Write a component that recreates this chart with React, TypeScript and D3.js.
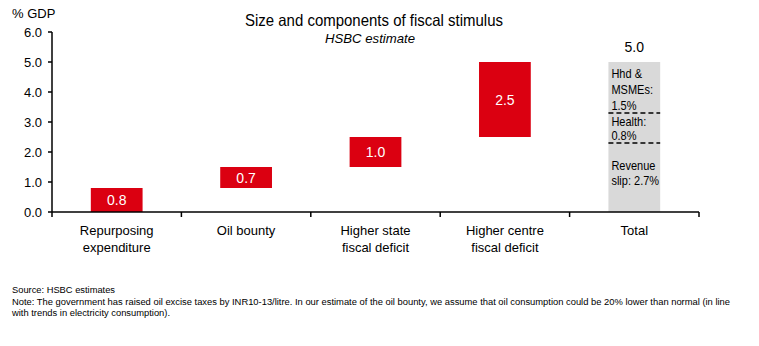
import React from "react";
import * as d3 from "d3";

const categories = ["Repurposing\nexpenditure", "Oil bounty", "Higher state\nfiscal deficit", "Higher centre\nfiscal deficit", "Total"];
const stepValues = [0.8, 0.7, 1.0, 2.5];
const stepLabels = ["0.8", "0.7", "1.0", "2.5"];
const totalValue = 5.0;
const totalLabel = "5.0";
// segment boundaries of the total bar as drawn (bottom to top)
const totalSegments = [2.3, 1.0, 1.7];
const totalSegmentLabels = [["Revenue", "slip: 2.7%"], ["Health:", "0.8%"], ["Hhd &", "MSMEs:", "1.5%"]];
const yTicks = [0, 1, 2, 3, 4, 5, 6];
const noteLines = [
  "Source: HSBC estimates",
  "Note: The government has raised oil excise taxes by INR10-13/litre. In our estimate of the oil bounty, we assume that oil consumption could be 20% lower than normal (in line",
  "with trends in electricity consumption).",
];
const noteWidths = [103, 718, 158];

const W = 759;
const H = 346;
const RED = "#db0011";
const GREY = "#d9d9d9";
const FONT = "'Liberation Sans', Arial, sans-serif";

export default function App() {
  const left = 52, right = 699, top = 32, bottom = 212;
  const x = d3.scaleBand<string>().domain(categories).range([left, right]).paddingInner(0).paddingOuter(0);
  const y = d3.scaleLinear().domain([0, 6]).range([bottom, top]);
  const barW = x.bandwidth() * 0.4;
  const starts = [0, ...Array.from(d3.cumsum(stepValues)).slice(0, -1)];
  const segStarts = [0, ...Array.from(d3.cumsum(totalSegments)).slice(0, -1)];
  const totalCat = categories[4];
  const tx = (x(totalCat) as number) + x.bandwidth() / 2 - barW / 2;
  const boundaries = [...categories.map((c) => x(c) as number), right];

  // baselines of the segment labels relative to the segment top
  const segOffsets = [[27, 42], [13, 27], [16, 32, 48]];

  return (
    <svg width={W} height={H} style={{ position: "absolute", left: 0, top: 0, background: "#fff" }} fontFamily={FONT}>
      <text x={374} y={26} textAnchor="middle" fontSize={16.5} fill="#000" textLength={258} lengthAdjust="spacingAndGlyphs">Size and components of fiscal stimulus</text>
      <text x={370} y={43} textAnchor="middle" fontSize={13} fontStyle="italic" fill="#000" textLength={90} lengthAdjust="spacingAndGlyphs">HSBC estimate</text>
      <text x={12} y={18} fontSize={13} fill="#000">% GDP</text>

      {stepValues.map((v, i) => {
        const cx = (x(categories[i]) as number) + x.bandwidth() / 2;
        const y0 = y(starts[i]);
        const y1 = y(starts[i] + v);
        return (
          <g key={i}>
            <rect x={cx - barW / 2} y={y1} width={barW} height={y0 - y1} fill={RED} />
            <text x={cx} y={(y0 + y1) / 2 + 5} textAnchor="middle" fontSize={14} fill="#fff">{stepLabels[i]}</text>
          </g>
        );
      })}

      {totalSegments.map((v, i) => (
        <rect key={i} x={tx} y={y(segStarts[i] + v)} width={barW} height={y(segStarts[i]) - y(segStarts[i] + v)} fill={GREY} />
      ))}
      {totalSegments.slice(0, -1).map((v, i) => (
        <line key={i} x1={tx} x2={tx + barW} y1={y(segStarts[i] + v)} y2={y(segStarts[i] + v)} stroke="#000" strokeWidth={1.5} strokeDasharray="5,3" />
      ))}
      {totalSegmentLabels.map((lines, i) => {
        const segTop = y(segStarts[i] + totalSegments[i]);
        return lines.map((t, j) => (
          <text key={i + "-" + j} transform={`translate(${tx + 3},${segTop + segOffsets[i][j]}) scale(0.88,1)`} fontSize={12.5} fill="#000">{t}</text>
        ));
      })}
      <text x={tx + barW / 2} y={y(totalValue) - 10} textAnchor="middle" fontSize={14} fill="#000">{totalLabel}</text>

      {/* axes */}
      <line x1={left} x2={left} y1={top} y2={bottom} stroke="#000" strokeWidth={1.5} />
      {yTicks.map((t) => (
        <g key={t}>
          <line x1={left - 4} x2={left} y1={y(t)} y2={y(t)} stroke="#000" strokeWidth={1.5} />
          <text x={left - 10} y={y(t) + 5} textAnchor="end" fontSize={13} fill="#000">{d3.format(".1f")(t)}</text>
        </g>
      ))}
      <line x1={left} x2={right} y1={bottom} y2={bottom} stroke="#000" strokeWidth={1.5} />
      {boundaries.map((b, i) => (
        <line key={i} x1={b} x2={b} y1={bottom} y2={bottom + 5} stroke="#000" strokeWidth={1.5} />
      ))}
      {categories.map((c) => {
        const cx = (x(c) as number) + x.bandwidth() / 2;
        return c.split("\n").map((t, j) => (
          <text key={c + j} x={cx} y={235 + j * 17} textAnchor="middle" fontSize={13} fill="#000">{t}</text>
        ));
      })}

      {noteLines.map((t, i) => (
        <text key={i} x={12} y={293 + i * 11.5} fontSize={9.6} fill="#000" textLength={noteWidths[i]} lengthAdjust="spacingAndGlyphs">{t}</text>
      ))}
    </svg>
  );
}
